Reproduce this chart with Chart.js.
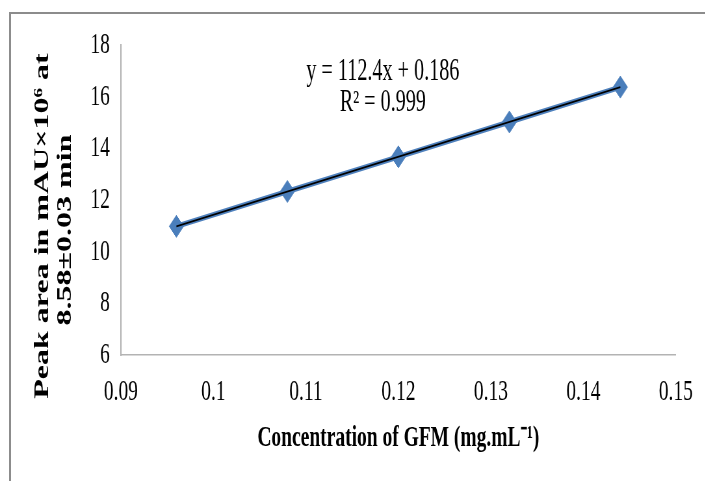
<!DOCTYPE html>
<html>
<head>
<meta charset="utf-8">
<script src="https://cdn.jsdelivr.net/npm/chart.js@4/dist/chart.umd.min.js"></script>
<style>
  html, body { margin: 0; padding: 0; background: #ffffff; overflow: hidden; }
  body { width: 705px; height: 481px; position: relative; }
  #frame { position: absolute; left: 9px; top: 12px; width: 720px; height: 500px;
           border-top: 2px solid #8c8c8c; border-left: 2px solid #8c8c8c; }
  #wrap { position: absolute; left: 0; top: 0; width: 1085px; height: 481px;
          transform: scaleX(0.65); transform-origin: 0 0; }
</style>
</head>
<body>
<div id="frame"></div>
<div id="wrap"><canvas id="c"></canvas></div>
<script>
// Data
const concentrations = [0.096, 0.108, 0.12, 0.132, 0.144];
const peakAreas = [10.98, 12.33, 13.67, 15.02, 16.37];
const trendX = [0.096, 0.144];
const trendY = [10.98, 16.37];
const xTickRange = { min: 0.09, max: 0.15, step: 0.01 };
const yTickRange = { min: 6, max: 18, step: 2 };
const equationLines = ['y = 112.4x + 0.186', 'R\u00B2 = 0.999'];
const yTitleLines = ['Peak area in mAU\u00D710\u2076 at', '8.58\u00B10.03 min'];
const xTitle = 'Concentration of GFM (mg.mL\u207B\u00B9)';

const SERIF = '"Liberation Serif", "Times New Roman", serif';

const textPlugin = {
  id: 'texts',
  afterDraw(chart) {
    const ctx = chart.ctx;
    ctx.save();
    ctx.fillStyle = '#000';
    ctx.textAlign = 'center';
    ctx.textBaseline = 'middle';
    ctx.font = '31px ' + SERIF;
    ctx.fillText(equationLines[0], 589, 72);
    ctx.fillText(equationLines[1], 589, 103);
    ctx.font = 'bold 32px ' + SERIF;
    const pos = [[66, 226], [101, 230]];
    yTitleLines.forEach((t, i) => {
      ctx.save();
      ctx.translate(pos[i][0], pos[i][1]);
      ctx.rotate(-Math.PI / 2);
      ctx.fillText(t, 0, 0);
      ctx.restore();
    });
    ctx.restore();
  }
};

new Chart(document.getElementById('c'), {
  type: 'scatter',
  data: {
    datasets: [
      {
        label: 'Linear trend',
        data: trendX.map((x, i) => ({ x, y: trendY[i] })),
        showLine: true,
        borderColor: '#000000',
        borderWidth: 1.6,
        pointRadius: 0,
        fill: false
      },
      {
        label: 'Peak area',
        data: concentrations.map((x, i) => ({ x, y: peakAreas[i] })),
        showLine: true,
        borderColor: '#4F81BD',
        borderWidth: 5.5,
        pointStyle: 'rectRot',
        pointRadius: 11,
        pointBackgroundColor: '#4A7EBB',
        pointBorderColor: '#4A7EBB',
        pointBorderWidth: 1,
        fill: false
      }
    ]
  },
  options: {
    responsive: true,
    maintainAspectRatio: false,
    animation: false,
    events: [],
    layout: { padding: { left: 0, right: 42, top: 45, bottom: 0 } },
    plugins: { legend: { display: false }, tooltip: { enabled: false } },
    scales: {
      x: {
        type: 'linear',
        min: xTickRange.min,
        max: xTickRange.max,
        grid: { display: true, color: 'rgba(0,0,0,0)', drawTicks: false },
        border: { display: true, color: '#b3b3b3', width: 1.5 },
        ticks: { stepSize: xTickRange.step, color: '#000', padding: 19,
                 font: { family: SERIF, size: 30 }, maxRotation: 0,
                 callback: (v) => String(Number(Number(v).toFixed(2))) },
        title: { display: true, text: xTitle, color: '#000',
                 font: { family: SERIF, size: 30, weight: 'bold' },
                 padding: { top: 25, bottom: 25 } },
        afterFit(scale) { scale.height = 126; }
      },
      y: {
        type: 'linear',
        min: yTickRange.min,
        max: yTickRange.max,
        grid: { display: true, color: 'rgba(0,0,0,0)', drawTicks: false },
        border: { display: true, color: '#b3b3b3', width: 2 },
        ticks: { stepSize: yTickRange.step, color: '#000', padding: 17,
                 font: { family: SERIF, size: 30 } },
        afterFit(scale) { scale.width = 186; }
      }
    }
  },
  plugins: [textPlugin]
});
</script>
</body>
</html>
